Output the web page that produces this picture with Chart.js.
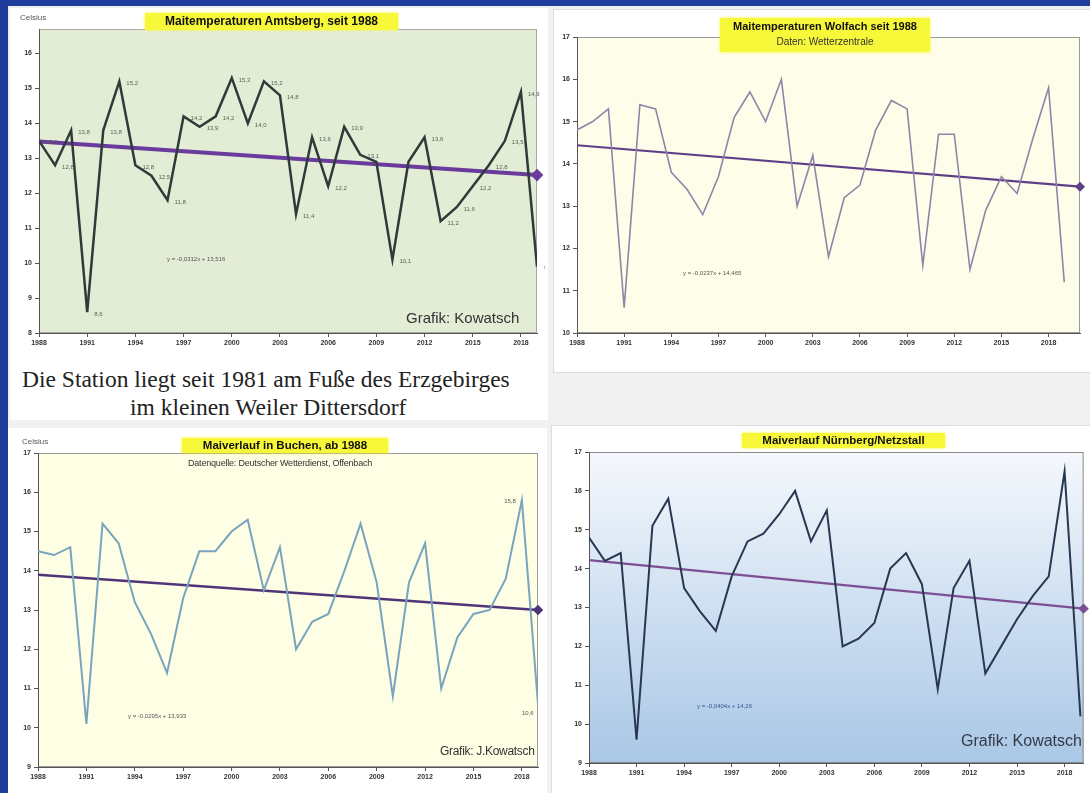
<!DOCTYPE html>
<html lang="de">
<head>
<meta charset="UTF-8">
<title>Maitemperaturen seit 1988</title>
<script src="https://cdn.jsdelivr.net/npm/chart.js"></script>
<style>
  body { margin: 0; width: 1090px; height: 793px; overflow: hidden; position: relative; background: #1e3d9c; font-family: "Liberation Sans", Arial, sans-serif; }
  .sheet { position: absolute; left: 8px; top: 6px; width: 1082px; height: 787px; background: #f1f1f1; }
  .panel { position: absolute; background: #fff; }
  canvas { position: absolute; }
  .t { position: absolute; white-space: nowrap; }
  .hl { background: #f8f83a; font-weight: bold; color: #111; text-align: center; box-shadow: 0 0 3px #f8f83a; }
  .eq { font-size: 6px; color: #555; }
</style>
</head>
<body>
<div class="sheet"></div>
<div class="panel" style="left:10px; top:8px; width:538px; height:412px;"></div>
<div class="panel" style="left:553px; top:9px; width:537px; height:362px; border:1px solid #ddd;"></div>
<div class="panel" style="left:8px; top:428px; width:539px; height:365px;"></div>
<div class="panel" style="left:551px; top:425px; width:539px; height:368px; border:1px solid #ddd;"></div>

<canvas id="c1" width="535" height="345" style="left:10px; top:8px;"></canvas>
<canvas id="c2" width="537" height="345" style="left:553px; top:10px;"></canvas>
<canvas id="c3" width="537" height="360" style="left:8px; top:430px;"></canvas>
<canvas id="c4" width="540" height="362" style="left:550px; top:428px;"></canvas>

<!-- Amtsberg -->
<div class="t" style="left:20px; top:13px; font-size:8px; color:#555;">Celsius</div>
<div class="t hl" style="left:145px; top:13px; width:253px; height:17px; line-height:17px; font-size:12px;">Maitemperaturen Amtsberg, seit 1988</div>
<div class="t eq" style="left:167px; top:256px;">y = -0,0312x + 13,516</div>
<div class="t" style="left:406px; top:309px; font-size:15px; color:#333;">Grafik: Kowatsch</div>

<!-- Wolfach -->
<div class="t hl" style="left:720px; top:18px; width:210px; height:34px; font-size:11px; line-height:15px; padding-top:1px; box-sizing:border-box;">Maitemperaturen Wolfach seit 1988<br><span style="font-weight:normal; font-size:10px; color:#333;">Daten: Wetterzentrale</span></div>
<div class="t eq" style="left:683px; top:270px;">y = -0,0237x + 14,465</div>

<!-- Text unter Amtsberg -->
<div class="t" style="left:22px; top:366px; font-family:'Liberation Serif', serif; font-size:23.5px; color:#222;">Die Station liegt seit 1981 am Fuße des Erzgebirges</div>
<div class="t" style="left:130px; top:394px; font-family:'Liberation Serif', serif; font-size:23.5px; color:#222;">im kleinen Weiler Dittersdorf</div>

<!-- Buchen -->
<div class="t" style="left:22px; top:437px; font-size:8px; color:#555;">Celsius</div>
<div class="t hl" style="left:182px; top:438px; width:206px; height:15px; line-height:15px; font-size:11.5px;">Maiverlauf in Buchen, ab 1988</div>
<div class="t" style="left:188px; top:458px; font-size:9px; color:#333; letter-spacing:-0.2px;">Datenquelle: Deutscher Wetterdienst, Offenbach</div>
<div class="t eq" style="left:128px; top:713px;">y = -0,0295x + 13,933</div>
<div class="t" style="left:440px; top:744px; font-size:12px; color:#333; letter-spacing:-0.3px;">Grafik: J.Kowatsch</div>

<!-- Nürnberg -->
<div class="t hl" style="left:742px; top:433px; width:203px; height:15px; line-height:15px; font-size:11.5px;">Maiverlauf Nürnberg/Netzstall</div>
<div class="t eq" style="left:697px; top:703px; color:#3a5590;">y = -0,0404x + 14,26</div>
<div class="t" style="left:961px; top:732px; font-size:16px; color:#333a48;">Grafik: Kowatsch</div>

<script>
// Jahre und Achsenbeschriftung
const years = [1988, 1989, 1990, 1991, 1992, 1993, 1994, 1995, 1996, 1997,
               1998, 1999, 2000, 2001, 2002, 2003, 2004, 2005, 2006, 2007,
               2008, 2009, 2010, 2011, 2012, 2013, 2014, 2015, 2016, 2017,
               2018, 2019];
const xTickYears = [1988, 1991, 1994, 1997, 2000, 2003, 2006, 2009, 2012, 2015, 2018];

// Mai-Mitteltemperaturen (°C)
const amtsberg = [13.5, 12.8, 13.8, 8.6, 13.8, 15.2, 12.8, 12.5, 11.8, 14.2,
                  13.9, 14.2, 15.3, 14.0, 15.2, 14.8, 11.4, 13.6, 12.2, 13.9,
                  13.1, 12.9, 10.1, 12.9, 13.6, 11.2, 11.6, 12.2, 12.8, 13.5,
                  14.9, 9.9];
const wolfach = [14.8, 15.0, 15.3, 10.6, 15.4, 15.3, 13.8, 13.4, 12.8, 13.7,
                 15.1, 15.7, 15.0, 16.0, 13.0, 14.2, 11.8, 13.2, 13.5, 14.8,
                 15.5, 15.3, 11.6, 14.7, 14.7, 11.5, 12.9, 13.7, 13.3, 14.6,
                 15.8, 11.2];
const buchen = [14.5, 14.4, 14.6, 10.1, 15.2, 14.7, 13.2, 12.4, 11.4, 13.3,
                14.5, 14.5, 15.0, 15.3, 13.5, 14.6, 12.0, 12.7, 12.9, 14.0,
                15.2, 13.7, 10.8, 13.7, 14.7, 11.0, 12.3, 12.9, 13.0, 13.8,
                15.8, 10.6];
const nuernberg = [14.8, 14.2, 14.4, 9.6, 15.1, 15.8, 13.5, 12.9, 12.4, 13.8,
                   14.7, 14.9, 15.4, 16.0, 14.7, 15.5, 12.0, 12.2, 12.6, 14.0,
                   14.4, 13.6, 10.9, 13.5, 14.2, 11.3, 12.0, 12.7, 13.3, 13.8,
                   16.5, 10.2];

// Trendlinien: Anfangs- und Endpunkt
const trendAmtsbergYears = [1988, 2019];
const trendAmtsberg = [13.48, 12.52];
const trendWolfachYears = [1988, 2020];
const trendWolfach = [14.44, 13.46];
const trendBuchenYears = [1988, 2019];
const trendBuchen = [13.9, 13.0];
const trendNuernbergYears = [1988, 2019.2];
const trendNuernberg = [14.22, 12.97];

Chart.defaults.font.family = "'Liberation Sans', Arial, sans-serif";
Chart.defaults.animation = false;

// Hintergrund der Zeichenfläche
const plotBg = {
  id: 'plotBg',
  beforeDraw(chart, args, o) {
    const { ctx, chartArea: a } = chart;
    ctx.save();
    if (o.gradient) {
      const g = ctx.createLinearGradient(0, a.top, 0, a.bottom);
      g.addColorStop(0, o.gradient[0]);
      g.addColorStop(1, o.gradient[1]);
      ctx.fillStyle = g;
    } else {
      ctx.fillStyle = o.color;
    }
    ctx.fillRect(a.left, a.top, a.width, a.height);
    ctx.strokeStyle = o.border || '#999';
    ctx.lineWidth = 1;
    ctx.strokeRect(a.left + 0.5, a.top + 0.5, a.width - 1, a.height - 1);
    ctx.restore();
  }
};

// Werte an den Punkten
const pointLabels = {
  id: 'pointLabels',
  afterDatasetsDraw(chart, args, o) {
    if (!o.items) return;
    const meta = chart.getDatasetMeta(0);
    const pts = chart.data.datasets[0].data;
    const ctx = chart.ctx;
    ctx.save();
    ctx.font = '6px ' + Chart.defaults.font.family;
    ctx.fillStyle = o.color || '#555';
    ctx.textBaseline = 'middle';
    o.items.forEach(it => {
      const p = meta.data[it.i];
      ctx.textAlign = it.align || 'left';
      ctx.fillText(pts[it.i].y.toFixed(1).replace('.', ','), p.x + (it.dx ?? 7), p.y + (it.dy ?? 0));
    });
    ctx.restore();
  }
};

function toXY(xs, ys) {
  return xs.map((x, i) => ({ x: x, y: ys[i] }));
}

function makeChart(id, s) {
  return new Chart(document.getElementById(id), {
    type: 'line',
    data: {
      datasets: [
        {
          data: toXY(years, s.values),
          borderColor: s.lineColor,
          borderWidth: s.lineWidth,
          pointRadius: 0,
          tension: 0
        },
        {
          data: toXY(s.trendYears, s.trend),
          borderColor: s.trendColor,
          borderWidth: s.trendWidth,
          pointRadius: [0, 3.5],
          pointStyle: 'rectRot',
          pointBackgroundColor: s.trendColor,
          pointBorderColor: s.trendColor,
          clip: false
        }
      ]
    },
    options: {
      responsive: false,
      layout: { padding: s.padding },
      plugins: {
        legend: { display: false },
        tooltip: { enabled: false },
        plotBg: s.bg,
        pointLabels: { items: s.labels, color: s.labelColor }
      },
      scales: {
        x: {
          type: 'linear',
          min: 1988,
          max: s.xMax,
          afterBuildTicks: sc => { sc.ticks = xTickYears.map(v => ({ value: v })); },
          afterFit: sc => { sc.height = s.xHeight; },
          ticks: {
            font: { size: 7, weight: 'bold' },
            color: '#333',
            padding: 2,
            maxRotation: 0,
            callback: v => String(v)
          },
          grid: { drawOnChartArea: false, tickLength: 4, color: '#555' },
          border: { color: '#555' }
        },
        y: {
          min: s.yMin,
          max: s.yMax,
          afterBuildTicks: sc => {
            const t = [];
            for (let v = s.yMin; v <= Math.floor(s.yMax); v++) t.push({ value: v });
            sc.ticks = t;
          },
          afterFit: sc => { sc.width = s.yWidth; },
          ticks: {
            font: { size: 7, weight: 'bold' },
            color: '#333',
            padding: 3
          },
          grid: { drawOnChartArea: false, tickLength: 4, color: '#555' },
          border: { color: '#555' }
        }
      }
    },
    plugins: [plotBg, pointLabels]
  });
}

// Beschriftete Punkte bei Amtsberg (2009 und 2011 ohne Wert)
const amtsbergLabels = amtsberg.map((v, i) => ({ i: i, dx: 7, dy: 2 }))
  .filter(it => it.i !== 21 && it.i !== 23);

makeChart('c1', {
  values: amtsberg, trendYears: trendAmtsbergYears, trend: trendAmtsberg,
  lineColor: '#2d3b39', lineWidth: 2.5, trendColor: '#6a3a9c', trendWidth: 4,
  xMax: 2019, yMin: 8, yMax: 16.7, yWidth: 29, xHeight: 20,
  padding: { top: 21, right: 5, left: 0, bottom: 0 },
  bg: { color: '#e3edd6', border: '#a8a8a8' },
  labels: amtsbergLabels, labelColor: '#55605a'
});

makeChart('c2', {
  values: wolfach, trendYears: trendWolfachYears, trend: trendWolfach,
  lineColor: '#8d86a8', lineWidth: 1.6, trendColor: '#5d3f88', trendWidth: 2.2,
  xMax: 2020, yMin: 10, yMax: 17, yWidth: 24, xHeight: 22,
  padding: { top: 27, right: 10, left: 0, bottom: 0 },
  bg: { color: '#fefde9', border: '#9a9a9a' },
  labels: null
});

makeChart('c3', {
  values: buchen, trendYears: trendBuchenYears, trend: trendBuchen,
  lineColor: '#78a4bc', lineWidth: 2, trendColor: '#4f3478', trendWidth: 2.5,
  xMax: 2019, yMin: 9, yMax: 17, yWidth: 30, xHeight: 23,
  padding: { top: 23, right: 7, left: 0, bottom: 0 },
  bg: { color: '#fefee5', border: '#9a9a9a' },
  labels: [{ i: 30, dx: -6, dy: 1, align: 'right' }, { i: 31, dx: -16, dy: 9 }],
  labelColor: '#555'
});

makeChart('c4', {
  values: nuernberg, trendYears: trendNuernbergYears, trend: trendNuernberg,
  lineColor: '#283852', lineWidth: 2, trendColor: '#7d4f94', trendWidth: 2.4,
  xMax: 2019.2, yMin: 9, yMax: 17, yWidth: 39, xHeight: 27,
  padding: { top: 24, right: 0, left: 0, bottom: 0 },
  bg: { gradient: ['#f5f8fc', '#a9c7e6'], border: '#8a8a8a' },
  labels: null
});
</script>
</body>
</html>
